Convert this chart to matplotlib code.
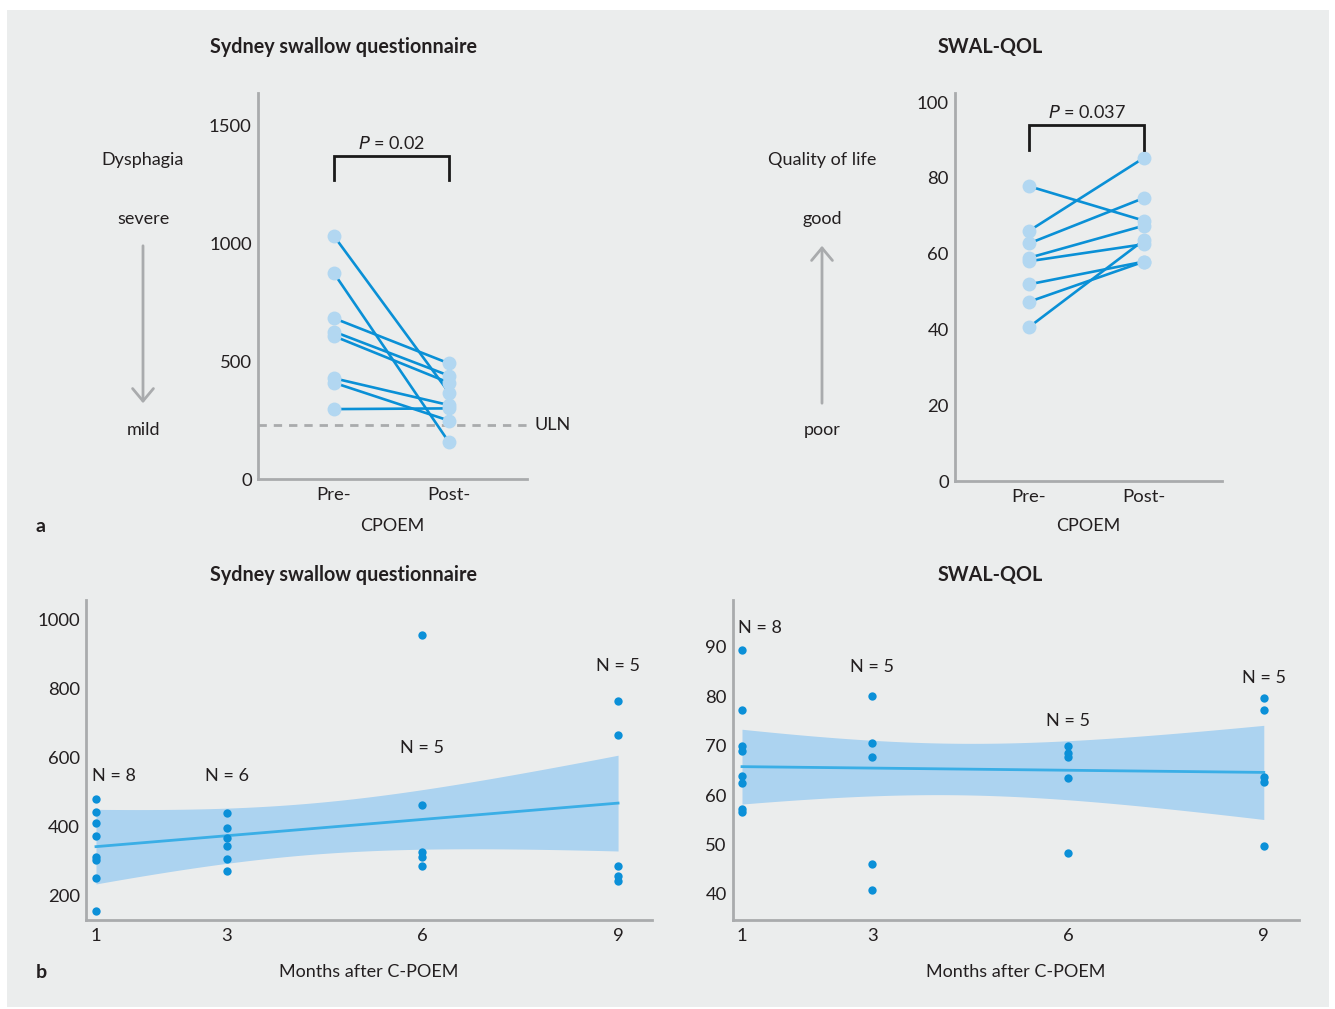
import numpy as np
import matplotlib
matplotlib.use("Agg")
import matplotlib.pyplot as plt
from matplotlib.patches import Rectangle, FancyArrowPatch
from matplotlib import font_manager

# ---------------- data ----------------
# Panel a, Sydney swallow questionnaire (pre / post pairs)
ssq_pre = [1032, 874, 683, 626, 607, 428, 409, 297]
ssq_post = [367, 156, 491, 439, 409, 314, 248, 300]
ssq_uln = 230
ssq_p = "0.02"

# Panel a, SWAL-QOL (pre / post pairs)
qol_pre = [77.8, 66.0, 62.7, 58.9, 58.0, 51.9, 47.3, 40.6]
qol_post = [68.7, 85.3, 74.7, 67.4, 62.5, 57.9, 57.9, 63.6]
qol_p = "0.037"

pair_labels = ["Pre-", "Post-"]

# Panel b, Sydney swallow questionnaire over months
months_ticks = [1, 3, 6, 9]
ssq_m1 = [480, 443, 410, 373, 314, 305, 252, 158]
ssq_m3 = [441, 397, 368, 345, 308, 272]
ssq_m6 = [954, 463, 326, 314, 288]
ssq_m9 = [764, 666, 288, 258, 244]

# Panel b, SWAL-QOL over months
qol_m1 = [89.4, 77.2, 69.9, 69.0, 63.8, 62.4, 57.2, 56.5]
qol_m3 = [80.0, 70.6, 67.7, 46.0, 40.8]
qol_m6 = [70.0, 68.5, 67.7, 63.5, 48.2]
qol_m9 = [79.7, 77.2, 63.7, 62.7, 49.7]

# ---------------- style ----------------
avail = {f.name for f in font_manager.fontManager.ttflist}
base_font = [f for f in ["Lato", "Open Sans", "DejaVu Sans"] if f in avail]
bold_font = [f for f in ["Liberation Sans Narrow", "Lato", "DejaVu Sans"] if f in avail]
plt.rcParams['font.family'] = base_font

BG = "#ebeded"
SPINE = "#a9abad"
LINE_BLUE = "#0a90d6"
DOT_LIGHT = "#b2d7f1"
DOT_BLUE = "#0b90d8"
BAND = "#acd3f0"
FIT = "#3aaee6"
TXT = "#231f20"
FS = 13

W, H = 1335, 1009
fig = plt.figure(figsize=(W / 100, H / 100), dpi=100)
fig.patch.set_facecolor("white")
fig.patches.append(Rectangle((7 / W, 1 - 1007 / H), (1329 - 7) / W, (1007 - 10) / H,
                             transform=fig.transFigure, facecolor=BG, edgecolor="none", zorder=-10))


def px_axes(x0, y0, x1, y1):
    ax = fig.add_axes([x0 / W, 1 - y1 / H, (x1 - x0) / W, (y1 - y0) / H])
    ax.set_facecolor("none")
    for s in ["top", "right"]:
        ax.spines[s].set_visible(False)
    for s in ["left", "bottom"]:
        ax.spines[s].set_color(SPINE)
        ax.spines[s].set_linewidth(2)
    ax.tick_params(length=0, labelsize=FS + 0.3, colors=TXT)
    ax.tick_params(axis="y", pad=4.5)
    ax.tick_params(axis="x", pad=6)
    return ax


def ftext(px, py, s, **kw):
    kw.setdefault("fontsize", FS)
    kw.setdefault("color", TXT)
    kw.setdefault("ha", "center")
    kw.setdefault("va", "center")
    fig.text(px / W, 1 - py / H, s, **kw)


def paired(ax, pre, post):
    for a, b in zip(pre, post):
        ax.plot([0, 1], [a, b], color=LINE_BLUE, lw=1.9, zorder=2,
                solid_capstyle="round")
    ax.plot(np.zeros(len(pre)), pre, "o", color=DOT_LIGHT, ms=10, zorder=3, mec="none")
    ax.plot(np.ones(len(post)), post, "o", color=DOT_LIGHT, ms=10, zorder=3, mec="none")
    ax.set_xticks([0, 1])
    ax.set_xticklabels(pair_labels)


def bracket(ax, top, foot, texty, p):
    ax.plot([0, 0, 1, 1], [foot, top, top, foot], color="#1a1a1a", lw=2,
            solid_joinstyle="miter", zorder=4)
    ax.text(0.5, texty, "$P$ = " + p, ha="center", va="center", fontsize=FS, color=TXT)


# ---- panel a left ----
ax1 = px_axes(258, 93, 527, 479)
paired(ax1, ssq_pre, ssq_post)
ax1.set_xlim(-0.661, 1.678)
ax1.set_ylim(0, 1640)
ax1.set_yticks([0, 500, 1000, 1500])
ax1.axhline(ssq_uln, xmin=0, xmax=1, color="#a9abad",
            lw=2, ls=(0, (3, 2.5)), zorder=1)
ax1.text(1.745, ssq_uln, "ULN", ha="left", va="center", fontsize=FS, color=TXT, clip_on=False)
bracket(ax1, 1372, 1270, 1425, ssq_p)

# ---- panel a right ----
ax2 = px_axes(955, 93, 1222, 481)
paired(ax2, qol_pre, qol_post)
ax2.set_xlim(-0.643, 1.678)
ax2.set_ylim(0, 102.4)
ax2.set_yticks([0, 20, 40, 60, 80, 100])
bracket(ax2, 93.9, 87.3, 97.2, qol_p)


# ---- panel b ----
def fit_panel(ax, groups):
    xs = np.concatenate([np.full(len(g), m) for m, g in zip(months_ticks, groups)]).astype(float)
    ys = np.concatenate([np.asarray(g, float) for g in groups])
    n = len(xs)
    slope, icpt = np.polyfit(xs, ys, 1)
    resid = ys - (slope * xs + icpt)
    s = np.sqrt(np.sum(resid ** 2) / (n - 2))
    xm = xs.mean()
    sxx = np.sum((xs - xm) ** 2)
    tval = 2.07
    grid = np.linspace(1, 9, 200)
    yfit = slope * grid + icpt
    half = tval * s * np.sqrt(1 / n + (grid - xm) ** 2 / sxx)
    ax.fill_between(grid, yfit - half, yfit + half, color=BAND, lw=0, zorder=1)
    ax.plot(grid, yfit, color=FIT, lw=2, zorder=2)
    ax.plot(xs, ys, "o", color=DOT_BLUE, ms=6, mec="none", zorder=3)
    ax.set_xticks(months_ticks)
    ax.set_xticklabels([str(m) for m in months_ticks])


ssq_groups = [ssq_m1, ssq_m3, ssq_m6, ssq_m9]
qol_groups = [qol_m1, qol_m3, qol_m6, qol_m9]

ax3 = px_axes(86, 600, 652, 920)
fit_panel(ax3, ssq_groups)
ax3.set_xlim(0.847, 9.52)
ax3.set_ylim(130.6, 1055)
ax3.set_yticks([200, 400, 600, 800, 1000])
for xx, yy, g in zip([1.28, 3, 6, 9], [547, 547, 628, 865], ssq_groups):
    ax3.text(xx, yy, f"N = {len(g)}", ha="center", va="center", fontsize=FS, color=TXT)

ax4 = px_axes(733, 600, 1299, 920)
fit_panel(ax4, qol_groups)
ax4.set_xlim(0.862, 9.54)
ax4.set_ylim(34.7, 99.5)
ax4.set_yticks([40, 50, 60, 70, 80, 90])
for xx, yy, g in zip([1.28, 3, 6, 9], [93.8, 86.0, 75.0, 83.7], qol_groups):
    ax4.text(xx, yy, f"N = {len(g)}", ha="center", va="center", fontsize=FS, color=TXT)

# ---- figure texts ----
tkw = dict(fontsize=FS + 1.2, fontweight="bold", family=bold_font)
ftext(344, 47, "Sydney swallow questionnaire", **tkw)
ftext(990, 47, "SWAL-QOL", **tkw)
ftext(344, 575, "Sydney swallow questionnaire", **tkw)
ftext(990, 575, "SWAL-QOL", **tkw)

ftext(392, 526, "CPOEM")
ftext(1088, 526, "CPOEM")
ftext(369, 972, "Months after C-POEM")
ftext(1016, 972, "Months after C-POEM")
ftext(41, 526, "a", fontweight="bold", fontsize=FS + 1)
ftext(41, 972, "b", fontweight="bold", fontsize=FS + 1)

ftext(143, 160, "Dysphagia")
ftext(143, 219, "severe")
ftext(143, 430, "mild")
ftext(822, 160, "Quality of life")
ftext(822, 219, "good")
ftext(822, 430, "poor")

fig.patches.append(FancyArrowPatch(
    (143 / W, 1 - 243 / H), (143 / W, 1 - 406 / H), transform=fig.transFigure,
    arrowstyle="->,head_length=6,head_width=5", color=SPINE, lw=2, mutation_scale=1.5))
fig.patches.append(FancyArrowPatch(
    (822 / W, 1 - 406 / H), (822 / W, 1 - 243 / H), transform=fig.transFigure,
    arrowstyle="->,head_length=6,head_width=5", color=SPINE, lw=2, mutation_scale=1.5))

fig.savefig("out.png", dpi=100, facecolor="white")
